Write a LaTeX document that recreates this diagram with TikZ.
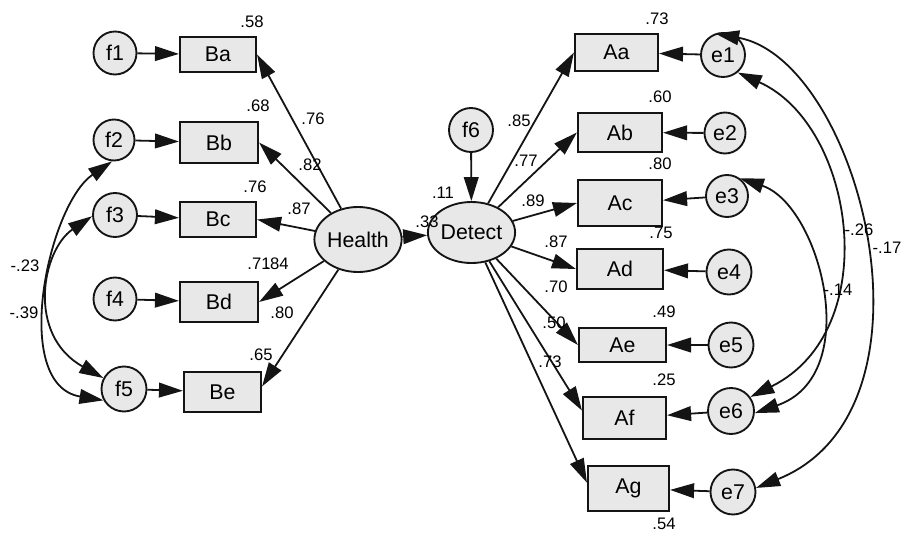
\documentclass[tikz,border=0pt]{standalone}
\usepackage{fontspec}
\setmainfont{Liberation Sans}
\usetikzlibrary{arrows.meta,shapes.geometric}
\definecolor{nodefill}{RGB}{232,232,232}
\definecolor{linec}{RGB}{20,20,20}
\tikzset{
  boxnode/.style 2 args={draw=linec, line width=1.6pt, fill=nodefill, minimum width=#1*0.75pt, minimum height=#2*0.75pt, inner sep=0pt, font=\fontsize{16}{18}\selectfont},
  circnode/.style={circle, draw=linec, line width=1.4pt, fill=nodefill, minimum size=#1*0.75pt, inner sep=0pt, font=\fontsize{16}{18}\selectfont},
  ellnode/.style 2 args={ellipse, draw=linec, line width=1.4pt, fill=nodefill, minimum width=#1*0.75pt, minimum height=#2*0.75pt, inner sep=0pt, font=\fontsize{16}{18}\selectfont},
  lbl/.style={inner sep=0pt, font=\fontsize{12.5}{14}\selectfont},
  arr/.style={draw=linec, -{Triangle[length=18pt,width=11pt]}, line width=1.35pt},
  biarr/.style={draw=linec, {Triangle[length=18pt,width=11pt]}-{Triangle[length=18pt,width=11pt]}, line width=1.35pt},
}
\begin{document}
\begin{tikzpicture}[x=0.75pt,y=-0.75pt]
\useasboundingbox (0,0) rectangle (901,533);
% left exogenous errors
\node[circnode=43] (f1) at (115,53) {f1};
\node[circnode=41] (f2) at (114,140) {f2};
\node[circnode=44] (f3) at (115,215) {f3};
\node[circnode=43] (f4) at (115,299) {f4};
\node[circnode=45] (f5) at (124,389) {f5};
% left indicators
\node[boxnode={76}{35}] (Ba) at (218,54.5) {Ba};
\node[boxnode={78}{41}] (Bb) at (219,142.5) {Bb};
\node[boxnode={76}{35}] (Bc) at (218,219.5) {Bc};
\node[boxnode={78}{40}] (Bd) at (219,302) {Bd};
\node[boxnode={77}{40}] (Be) at (222.5,392) {Be};
% latents
\node[ellnode={83}{65}] (Health) at (358,239.5) {Health};
\node[ellnode={79}{61}] (Detect) at (471.5,232.5) {Detect};
\node[circnode=44] (f6) at (471,130) {f6};
% right indicators
\node[boxnode={83}{37}] (Aa) at (616.5,52.5) {Aa};
\node[boxnode={84}{39}] (Ab) at (620,132.5) {Ab};
\node[boxnode={84}{46}] (Ac) at (620,203) {Ac};
\node[boxnode={86}{40}] (Ad) at (620,269) {Ad};
\node[boxnode={87}{34}] (Ae) at (622.5,345) {Ae};
\node[boxnode={83}{42}] (Af) at (624.5,418) {Af};
\node[boxnode={81}{45}] (Ag) at (628.5,488.5) {Ag};
% right errors
\node[circnode=44] (e1) at (723,55) {e1};
\node[circnode=41] (e2) at (725,133) {e2};
\node[circnode=42] (e3) at (727,196) {e3};
\node[circnode=45] (e4) at (729,272) {e4};
\node[circnode=45] (e5) at (731,345) {e5};
\node[circnode=46] (e6) at (731,411) {e6};
\node[circnode=45] (e7) at (733,492) {e7};
% error paths left
\draw[arr] (f1) -- (Ba);
\draw[arr] (f2) -- (Bb);
\draw[arr] (f3) -- (Bc);
\draw[arr] (f4) -- (Bd);
\draw[arr] (f5) -- (Be);
% Health loadings
\draw[arr] (Health) -- (Ba.east);
\draw[arr] (Health) -- (Bb.east);
\draw[arr] (Health) -- (Bc.east);
\draw[arr] (Health) -- (Bd.east);
\draw[arr] (Health) -- (Be.8);
\draw[arr] (Health) -- (Detect);
\draw[arr] (f6) -- (Detect);
% Detect loadings
\draw[arr] (Detect) -- (Aa.west);
\draw[arr] (Detect) -- (Ab.west);
\draw[arr] (Detect) -- (Ac.west);
\draw[arr] (Detect) -- (Ad.west);
\draw[arr] (Detect) -- (Ae.west);
\draw[arr] (Detect) -- (Af.170);
\draw[arr] (Detect) -- (Ag.172);
% error paths right
\draw[arr] (e1) -- (Aa);
\draw[arr] (e2) -- (Ab);
\draw[arr] (e3) -- (Ac);
\draw[arr] (e4) -- (Ad);
\draw[arr] (e5) -- (Ae);
\draw[arr] (e6) -- (Af);
\draw[arr] (e7) -- (Ag);
% covariances
\draw[biarr] (f2.265) .. controls (48,205) and (10,385) .. (f5.209);
\draw[biarr] (f3.183) .. controls (42,250) and (26,335) .. (f5.152);
\draw[biarr] (e1.310) .. controls (855,125) and (885,330) .. (e6.36);
\draw[biarr] (e3.54) .. controls (820,205) and (865,375) .. (e6.355);
\draw[biarr] (e1.110) .. controls (860,60) and (950,410) .. (e7.10);
% labels left
\node[lbl] (r1) at (252,22) {.58};
\node[lbl] (r2) at (258,106) {.68};
\node[lbl] (r3) at (255,187) {.76};
\node[lbl] (r4) at (259,264) {.71};
\node[lbl] (r5) at (261,355) {.65};
\node[lbl] (w1) at (313,119) {.76};
\node[lbl] (w2) at (310,165) {.82};
\node[lbl] (w3) at (299,209) {.87};
\node[lbl] (w4) at (277,264) {.84};
\node[lbl] (w5) at (282,313) {.80};
\node[lbl] (c1) at (25,266) {-.23};
\node[lbl] (c2) at (24,313) {-.39};
\node[lbl] (r6) at (443,193) {.11};
\node[lbl] (w6) at (427,222) {.33};
% labels right
\node[lbl] (s1) at (657,19) {.73};
\node[lbl] (s2) at (660,97) {.60};
\node[lbl] (s3) at (660,164) {.80};
\node[lbl] (s4) at (661,233) {.75};
\node[lbl] (s5) at (664,312) {.49};
\node[lbl] (s6) at (664,380) {.25};
\node[lbl] (s7) at (664,524) {.54};
\node[lbl] (v1) at (519,121) {.85};
\node[lbl] (v2) at (526,161) {.77};
\node[lbl] (v3) at (533,201) {.89};
\node[lbl] (v4) at (556,242) {.87};
\node[lbl] (v5) at (556,287) {.70};
\node[lbl] (v6) at (554,323) {.50};
\node[lbl] (v7) at (550,362) {.73};
\node[lbl] (c3) at (859,230) {-.26};
\node[lbl] (c4) at (887,248) {-.17};
\node[lbl] (c5) at (838,290) {-.14};
\end{tikzpicture}
\end{document}
